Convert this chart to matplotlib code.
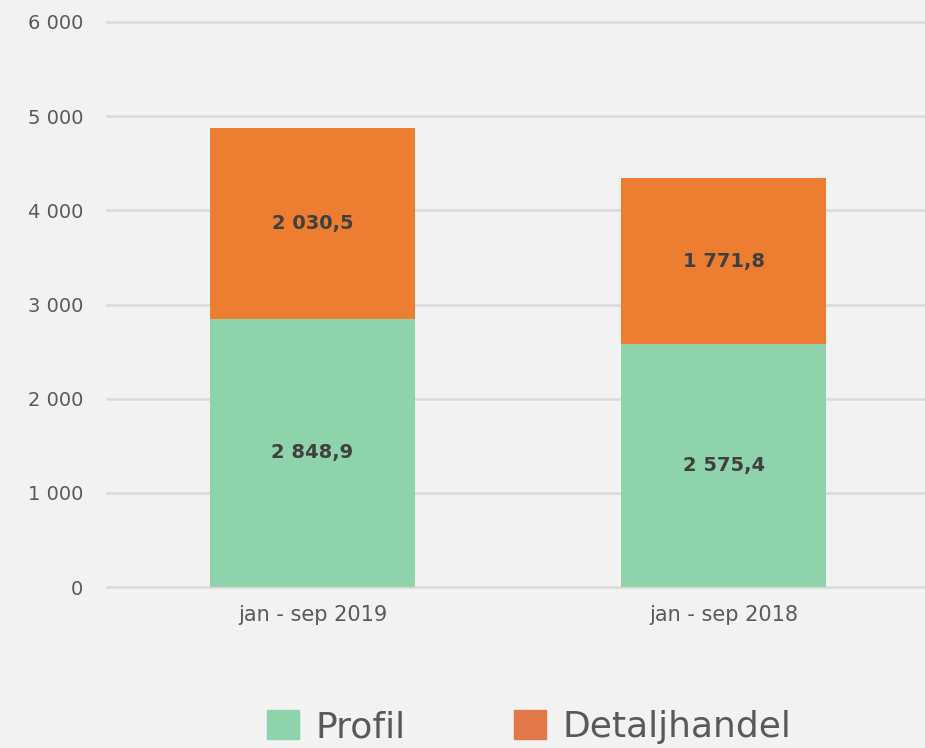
import matplotlib.pyplot as plt
from matplotlib.patches import Patch

# %% data
periods = ['jan - sep 2019', 'jan - sep 2018']
profil = [2848.9, 2575.4]
detaljhandel = [2030.5, 1771.8]
series_names = ['Profil', 'Detaljhandel']
y_ticks = [0, 1000, 2000, 3000, 4000, 5000, 6000]


def fmt(v, decimals=0):
    s = f'{v:,.{decimals}f}'
    return s.replace(',', ' ').replace('.', ',')


# %% plot
plt.rcParams['font.family'] = ['DejaVu Sans']

green = '#8fd3ac'
orange = '#ed7d31'
bg = '#f2f2f2'
text_grey = '#595959'

fig = plt.figure(figsize=(9.25, 7.48), dpi=100, facecolor=bg)
ax = fig.add_axes([0.1157, 0.2152, 0.8843, 0.7554])
ax.set_facecolor(bg)

x = list(range(len(periods)))
ax.bar(x, profil, width=0.5, color=green, zorder=3)
ax.bar(x, detaljhandel, width=0.5, bottom=profil, color=orange, zorder=3)

for i in x:
    ax.text(i, profil[i] / 2, fmt(profil[i], 1), ha='center', va='center',
            fontsize=14, fontweight='bold', color='#404040', zorder=4)
    ax.text(i, profil[i] + detaljhandel[i] / 2, fmt(detaljhandel[i], 1),
            ha='center', va='center', fontsize=14, fontweight='bold',
            color='#404040', zorder=4)

ax.set_xlim(-0.5, 1.49)
ax.set_ylim(0, 6000)
ax.set_yticks(y_ticks)
ax.set_yticklabels([fmt(t) for t in y_ticks], fontsize=14)
ax.set_xticks(x)
ax.set_xticklabels(periods, fontsize=15)
ax.tick_params(axis='both', length=0, colors=text_grey)
ax.tick_params(axis='y', pad=17)
ax.tick_params(axis='x', pad=13)
ax.grid(axis='y', color='#d9d9d9', linewidth=1.8, zorder=0)
for line in ax.get_ygridlines():
    line.set_clip_on(False)
for side in ax.spines.values():
    side.set_visible(False)

handles = [Patch(color=green), Patch(color='#e2784a')]
fig.legend(handles, series_names, loc='center', bbox_to_anchor=(0.572, 0.028),
           ncol=2, frameon=False, fontsize=26, labelcolor=text_grey,
           handlelength=0.89, handleheight=0.86, handletextpad=0.45, columnspacing=3.0)

fig.savefig('out.png', dpi=100, facecolor=bg)
